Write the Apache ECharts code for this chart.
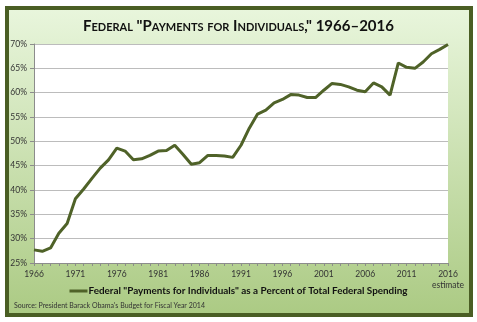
<!DOCTYPE html>
<html><head><meta charset="utf-8">
<script src="https://cdn.jsdelivr.net/npm/echarts@6/dist/echarts.min.js"></script>
<style>html,body{margin:0;padding:0;background:#fff}#c{width:477px;height:322px}</style>
</head><body><div id="c"></div>
<script>
const years = [];
for (let y = 1966; y <= 2016; y++) years.push(String(y));
const sharePct = [27.7,27.4,28.1,31.1,33.1,38.2,40.2,42.4,44.5,46.2,
  48.6,48.0,46.2,46.4,47.1,48.0,48.1,49.2,47.3,45.3,
  45.6,47.1,47.1,47.0,46.7,49.2,52.7,55.6,56.4,57.9,
  58.6,59.6,59.5,59.0,59.0,60.5,61.9,61.7,61.2,60.5,
  60.2,62.0,61.2,59.5,66.1,65.2,65.0,66.3,68.0,68.9,69.9];
const yTicks = { min: 25, max: 70, step: 5 };
const titleText = 'Federal "Payments for Individuals," 1966\u20132016';
const seriesName = 'Federal "Payments for Individuals" as a Percent of Total Federal Spending';
const sourceText = "Source: President Barack Obama's Budget for Fiscal Year 2014";

const FONT = 'Lato, "Open Sans", sans-serif';
const chart = echarts.init(document.getElementById('c'), null, {renderer: 'canvas'});
chart.setOption({
  animation: false,
  backgroundColor: '#ffffff',
  graphic: [
    { type: 'rect', z: -10, shape: { x: 7, y: 8, width: 464, height: 307 },
      style: { fill: new echarts.graphic.LinearGradient(0, 0, 0, 1, [
        { offset: 0, color: '#e9f6dd' }, { offset: 1, color: '#abca83' }]),
        stroke: '#4a5e24', lineWidth: 4 } },
    { type: 'text', left: 14, top: 302, z: 10,
      style: { text: sourceText, font: '7px ' + FONT, fill: '#333' } }
  ],
  title: {
    text: titleText, left: 'center', top: 14,
    textStyle: { fontSize: 15, fontWeight: 'bold', fontStyle: 'normal small-caps', fontFamily: FONT, color: '#111' }
  },
  legend: {
    data: [seriesName], bottom: 21, left: 'center', icon: 'rect',
    itemWidth: 18, itemHeight: 3, itemGap: 2,
    textStyle: { fontSize: 9.9, fontWeight: 'bold', fontFamily: FONT, color: '#111', padding: [0,0,0,-4] }
  },
  grid: { left: 34, right: 29, top: 44, bottom: 59, show: true, backgroundColor: '#ffffff', borderWidth: 0 },
  xAxis: {
    type: 'category', data: years, boundaryGap: false,
    axisLine: { lineStyle: { color: '#8c8c8c', width: 1 } },
    axisTick: { interval: 0, length: 3, lineStyle: { color: '#8c8c8c' } },
    axisLabel: { interval: 4, fontSize: 8.5, fontFamily: FONT, color: '#333', margin: 6, lineHeight: 11,
      formatter: v => v === '2016' ? '2016\nestimate' : v }
  },
  yAxis: {
    type: 'value', min: yTicks.min, max: yTicks.max, interval: yTicks.step,
    axisLine: { show: true, lineStyle: { color: '#8c8c8c' } },
    axisTick: { show: true, length: 4, lineStyle: { color: '#8c8c8c' } },
    splitLine: { lineStyle: { color: '#bcbcbc', width: 1 } },
    axisLabel: { formatter: '{value}%', fontSize: 8.5, fontFamily: FONT, color: '#333', margin: 7 }
  },
  series: [{
    name: seriesName, type: 'line', data: sharePct, symbol: 'none',
    lineStyle: { color: '#4f6228', width: 3 }, itemStyle: { color: '#4f6228' }
  }]
});
</script></body></html>
